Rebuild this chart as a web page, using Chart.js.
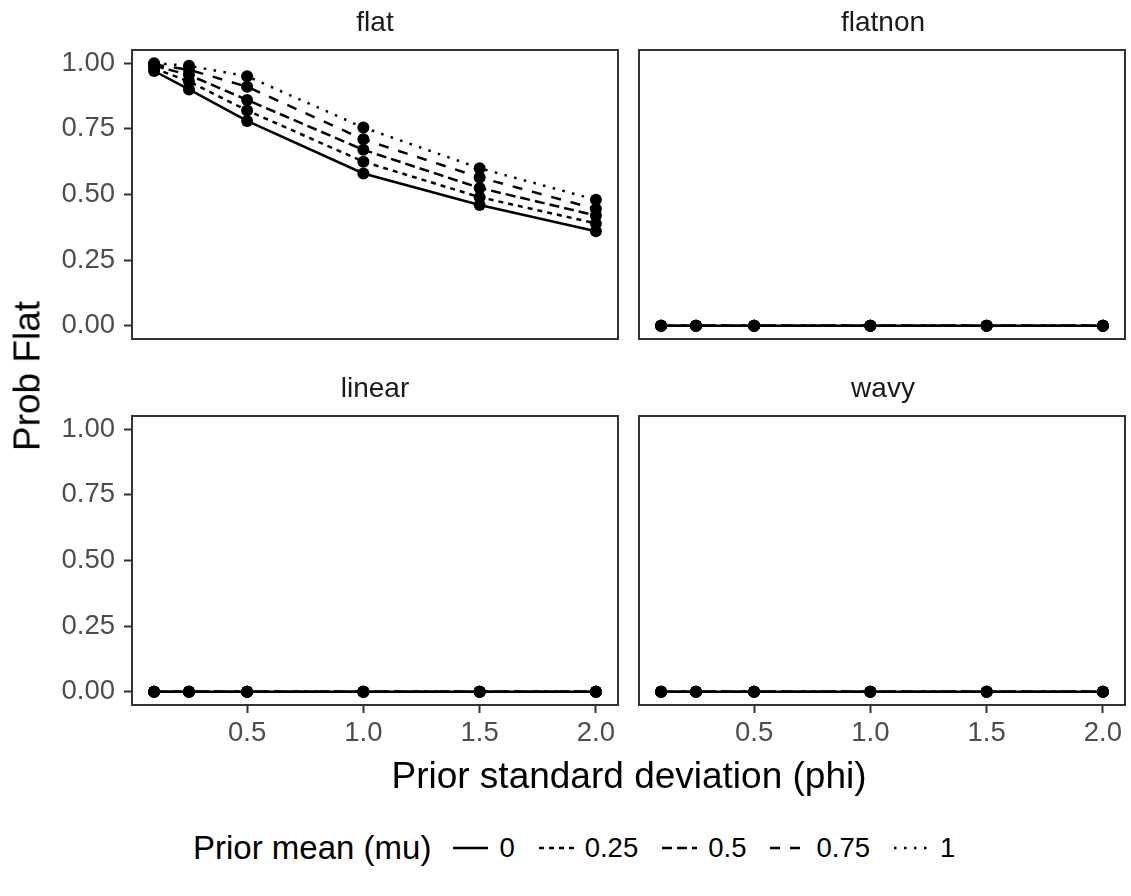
<!DOCTYPE html>
<html>
<head>
<meta charset="utf-8">
<script src="https://cdn.jsdelivr.net/npm/chart.js@4/dist/chart.umd.min.js"></script>
<style>
  html, body { margin: 0; padding: 0; background: #fff; }
  #fig {
    position: relative; width: 1131px; height: 896px; overflow: hidden;
    background: #fff; font-family: 'Liberation Sans', Arial, sans-serif;
  }
  #fig canvas { position: absolute; }
  .strip, .title {
    position: absolute; transform: translate(-50%, -50%);
    white-space: nowrap; line-height: 1;
  }
  .strip { font-size: 28px; color: #1a1a1a; }
  .title { font-size: 37px; color: #000; }
  #legend {
    position: absolute; left: 193px; top: 848px; transform: translateY(-50%);
    display: flex; align-items: center; white-space: nowrap;
  }
  #legend .ltitle { font-size: 33px; margin-right: 22px; }
  #legend .lkey { width: 35px; height: 20px; margin-right: 11px; }
  #legend .llabel { font-size: 27.5px; margin-right: 24px; }
</style>
</head>
<body>
<div id="fig">
  <canvas id="pFlat" width="612" height="389"></canvas>
  <canvas id="pFlatnon" width="612" height="389"></canvas>
  <canvas id="pLinear" width="612" height="389"></canvas>
  <canvas id="pWavy" width="612" height="389"></canvas>

  <div class="strip" style="left:375px; top:22px;">flat</div>
  <div class="strip" style="left:883px; top:22px;">flatnon</div>
  <div class="strip" style="left:375px; top:388px;">linear</div>
  <div class="strip" style="left:883px; top:388px;">wavy</div>

  <div class="title" style="left:629px; top:775px;">Prior standard deviation (phi)</div>
  <div class="title" style="left:27px; top:376px; transform: translate(-50%, -50%) rotate(-90deg);">Prob Flat</div>

  <div id="legend"></div>
</div>

<script>
// prior sd values on the x axis
const phi = [0.1, 0.25, 0.5, 1.0, 1.5, 2.0];
const muLevels = ['0', '0.25', '0.5', '0.75', '1'];

// "flat" panel: one series per prior mean
const flatMu0 = [0.97, 0.90, 0.78, 0.58, 0.46, 0.36];
const flatMu025 = [0.98, 0.93, 0.82, 0.625, 0.49, 0.39];
const flatMu05 = [0.99, 0.955, 0.86, 0.67, 0.525, 0.42];
const flatMu075 = [0.995, 0.975, 0.91, 0.71, 0.565, 0.445];
const flatMu1 = [1.0, 0.99, 0.95, 0.755, 0.60, 0.48];

// other panels are zero for every prior mean
const flatnonProb = [0, 0, 0, 0, 0, 0];
const linearProb = [0, 0, 0, 0, 0, 0];
const wavyProb = [0, 0, 0, 0, 0, 0];

const xTicks = [0.5, 1.0, 1.5, 2.0];
const yTicks = [0, 0.25, 0.5, 0.75, 1.0];

// ggplot-style linetypes: solid, 22, 42, 44, 13 (units of line width)
const LW = 2.5;
const dashes = [[], [2, 2], [4, 2], [4, 4], [1, 3]].map(d => d.map(v => v * LW));

const FONT = "'Liberation Sans', Arial, sans-serif";
const AXIS_W = 120, AXIS_H = 60, PAD_TOP = 40, PAD_RIGHT = 4;

// frame around each panel, drawn over the data like panel.border
const panelBox = {
  id: 'panelBox',
  afterDatasetsDraw(chart) {
    const a = chart.chartArea;
    const ctx = chart.ctx;
    ctx.save();
    ctx.strokeStyle = '#333333';
    ctx.lineWidth = 2;
    ctx.strokeRect(a.left, a.top, a.right - a.left, a.bottom - a.top);
    ctx.restore();
  }
};

function makePanel(id, left, top, seriesList, showX, showY) {
  const el = document.getElementById(id);
  el.style.left = (left - AXIS_W) + 'px';
  el.style.top = (top - PAD_TOP) + 'px';

  const datasets = seriesList.map((vals, i) => ({
    label: muLevels[i],
    data: phi.map((p, j) => ({ x: p, y: vals[j] })),
    borderColor: '#000',
    borderWidth: LW,
    borderDash: dashes[i],
    pointRadius: 6,
    pointBackgroundColor: '#000',
    pointBorderWidth: 0,
    pointHoverRadius: 6,
    tension: 0,
    fill: false,
    clip: 8
  }));

  const tickFont = { family: FONT, size: 27.5 };

  return new Chart(el.getContext('2d'), {
    type: 'line',
    data: { datasets },
    options: {
      responsive: false,
      animation: false,
      devicePixelRatio: 1,
      layout: { padding: { top: PAD_TOP, right: PAD_RIGHT, left: 0, bottom: 0 } },
      plugins: { legend: { display: false }, tooltip: { enabled: false } },
      scales: {
        x: {
          type: 'linear',
          min: 0.005,
          max: 2.095,
          afterBuildTicks: s => { s.ticks = xTicks.map(v => ({ value: v })); },
          afterFit: s => { s.height = AXIS_H; },
          grid: {
            display: showX, drawOnChartArea: false, drawTicks: true,
            tickLength: 8, tickColor: '#333333', tickWidth: 2
          },
          border: { display: false },
          ticks: {
            display: showX, font: tickFont, color: '#4d4d4d', padding: 4,
            maxRotation: 0, autoSkip: false,
            callback: v => v.toFixed(1)
          }
        },
        y: {
          type: 'linear',
          min: -0.05,
          max: 1.05,
          afterBuildTicks: s => { s.ticks = yTicks.map(v => ({ value: v })); },
          afterFit: s => { s.width = AXIS_W; },
          grid: {
            display: showY, drawOnChartArea: false, drawTicks: true,
            tickLength: 8, tickColor: '#333333', tickWidth: 2
          },
          border: { display: false },
          ticks: {
            display: showY, font: tickFont, color: '#4d4d4d', padding: 9,
            autoSkip: false,
            callback: v => v.toFixed(2)
          }
        }
      }
    },
    plugins: [panelBox]
  });
}

const zeros = ser => muLevels.map(() => ser);

makePanel('pFlat', 131.5, 49.5, [flatMu0, flatMu025, flatMu05, flatMu075, flatMu1], false, true);
makePanel('pFlatnon', 639, 49.5, zeros(flatnonProb), false, false);
makePanel('pLinear', 131.5, 415.5, zeros(linearProb), true, true);
makePanel('pWavy', 639, 415.5, zeros(wavyProb), true, false);

// legend: title, then a line key and label per prior mean
const legend = document.getElementById('legend');
const lt = document.createElement('span');
lt.className = 'ltitle';
lt.textContent = 'Prior mean (mu)';
legend.appendChild(lt);
muLevels.forEach((m, i) => {
  const key = document.createElementNS('http://www.w3.org/2000/svg', 'svg');
  key.setAttribute('class', 'lkey');
  key.setAttribute('viewBox', '0 0 35 20');
  const ln = document.createElementNS('http://www.w3.org/2000/svg', 'line');
  ln.setAttribute('x1', '0'); ln.setAttribute('x2', '35');
  ln.setAttribute('y1', '10'); ln.setAttribute('y2', '10');
  ln.setAttribute('stroke', '#000');
  ln.setAttribute('stroke-width', LW);
  if (dashes[i].length) ln.setAttribute('stroke-dasharray', dashes[i].join(' '));
  key.appendChild(ln);
  legend.appendChild(key);
  const lab = document.createElement('span');
  lab.className = 'llabel';
  lab.textContent = m;
  legend.appendChild(lab);
});
</script>
</body>
</html>
